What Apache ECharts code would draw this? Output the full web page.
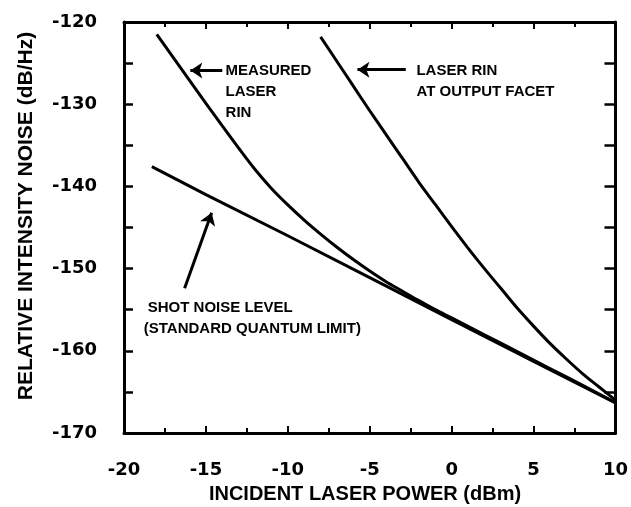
<!DOCTYPE html>
<html>
<head>
<meta charset="utf-8">
<script src="https://cdn.jsdelivr.net/npm/echarts@6/dist/echarts.min.js"></script>
<style>html,body{margin:0;padding:0;background:#fff;}#c{width:631px;height:507px;}</style>
</head>
<body>
<div id="c"></div>
<script>
// ---- data ----
const measuredX = [-18, -17, -16, -15, -14, -13, -12, -11, -10, -9, -8, -7, -6, -5, -4, -3, -2, -1, 0, 2, 4, 6, 8, 10];
const measuredY = [-121.5, -124.3, -127.1, -129.9, -132.65, -135.35, -137.95, -140.25, -142.25, -144.1, -145.8, -147.4, -148.9, -150.3, -151.6, -152.75, -153.9, -155.0, -156.0, -158.05, -160.1, -162.15, -164.2, -166.3];
const facetX = [-8, -7, -6, -5, -4, -3, -2, -1, 0, 1, 2, 3, 4, 5, 6, 7, 8, 9, 10];
const facetY = [-121.8, -124.8, -127.8, -130.8, -133.7, -136.6, -139.5, -142.2, -144.9, -147.5, -150.0, -152.4, -154.8, -157.0, -159.1, -161.0, -162.8, -164.4, -166.0];
const shotX = [-18.3, -15, -10, -5, 0, 5, 10];
const shotY = [-137.6, -141.0, -146.0, -151.1, -156.2, -161.3, -166.35];

const xTitle = 'INCIDENT LASER POWER (dBm)';
const yTitle = 'RELATIVE INTENSITY NOISE (dB/Hz)';

// annotation texts and anchors (data coordinates)
const noteTexts = [['MEASURED', 'LASER', 'RIN'], ['LASER RIN', 'AT OUTPUT FACET'], ['SHOT NOISE LEVEL', '(STANDARD QUANTUM LIMIT)']];
const noteAnchors = [[-13.8, -126.0], [-2.15, -126.0], [-18.55, -154.75]];
const arrowFrom = [[-14.0, -125.9], [-2.8, -125.8], [-16.3, -152.4]];
const arrowTo = [[-15.95, -125.9], [-5.75, -125.8], [-14.65, -143.2]];

const zip = (xs, ys) => xs.map((x, i) => [x, ys[i]]);
const FONT = '"Liberation Sans",Arial,sans-serif';
const LABELFONT = '"DejaVu Sans","Liberation Sans",sans-serif';

const chart = echarts.init(document.getElementById('c'), null, {renderer: 'canvas'});

const baseX = {
  type: 'value', min: -20, max: 10, interval: 5,
  axisLine: {show: true, onZero: false, lineStyle: {color: '#000', width: 3}},
  axisTick: {show: true, inside: true, length: 7, lineStyle: {color: '#000', width: 2}},
  minorTick: {show: true, splitNumber: 2, length: 5, lineStyle: {color: '#000', width: 2}},
  splitLine: {show: false}
};
const baseY = {
  type: 'value', min: -170, max: -120, interval: 10,
  axisLine: {show: true, onZero: false, lineStyle: {color: '#000', width: 3}},
  axisTick: {show: true, inside: true, length: 9, lineStyle: {color: '#000', width: 2.5}},
  minorTick: {show: true, splitNumber: 2, length: 9, lineStyle: {color: '#000', width: 2.5}},
  splitLine: {show: false}
};

const lineStyle = {color: '#000', width: 3};

chart.setOption({
  animation: false,
  backgroundColor: '#fff',
  grid: {left: 124, right: 9, top: 22, bottom: 74},
  xAxis: [
    Object.assign({}, baseX, {
      position: 'bottom',
      axisLabel: {show: true, margin: 28, fontFamily: LABELFONT, fontWeight: 'bold', fontSize: 18, color: '#000'}
    }),
    Object.assign({}, baseX, {position: 'top', axisLabel: {show: false}})
  ],
  yAxis: [
    Object.assign({}, baseY, {
      position: 'left',
      axisLabel: {show: true, margin: 27, fontFamily: LABELFONT, fontWeight: 'bold', fontSize: 18, color: '#000'}
    }),
    Object.assign({}, baseY, {position: 'right', axisLabel: {show: false}, axisTick: Object.assign({}, baseY.axisTick, {length: 11}), minorTick: Object.assign({}, baseY.minorTick, {length: 11})})
  ],
  series: [
    {type: 'line', name: 'Measured laser RIN', data: zip(measuredX, measuredY), smooth: 0.3, showSymbol: false, lineStyle: lineStyle,
     markLine: {silent: true, symbol: ['none', 'arrow'], symbolSize: 12, label: {show: false},
       lineStyle: {color: '#000', width: 3, type: 'solid'},
       data: arrowFrom.map((f, i) => [{coord: f}, {coord: arrowTo[i]}])}},
    {type: 'line', name: 'Laser RIN at output facet', data: zip(facetX, facetY), smooth: 0.3, showSymbol: false, lineStyle: lineStyle},
    {type: 'line', name: 'Shot noise level', data: zip(shotX, shotY), smooth: false, showSymbol: false, lineStyle: lineStyle}
  ]
});

// annotation texts placed at data coordinates; axis titles
const els = [];
noteTexts.forEach((lines, i) => {
  const p = chart.convertToPixel({xAxisIndex: 0, yAxisIndex: 0}, noteAnchors[i]);
  lines.forEach((t, j) => {
    els.push({type: 'text', x: p[0] - (i === 2 && j === 1 ? 4 : 0), y: p[1] + j * 21,
      style: {text: t, font: 'bold 15px ' + FONT, fill: '#000', textVerticalAlign: 'middle', textAlign: 'left'}});
  });
});
els.push({type: 'text', x: 365, y: 494, style: {text: xTitle, font: 'bold 20px ' + FONT, fill: '#000', textAlign: 'center', textVerticalAlign: 'middle'}});
els.push({type: 'text', x: 26, y: 216, rotation: Math.PI / 2, style: {text: yTitle, font: 'bold 21px ' + FONT, fill: '#000', textAlign: 'center', textVerticalAlign: 'middle'}});
chart.setOption({graphic: {elements: els}});
</script>
</body>
</html>
